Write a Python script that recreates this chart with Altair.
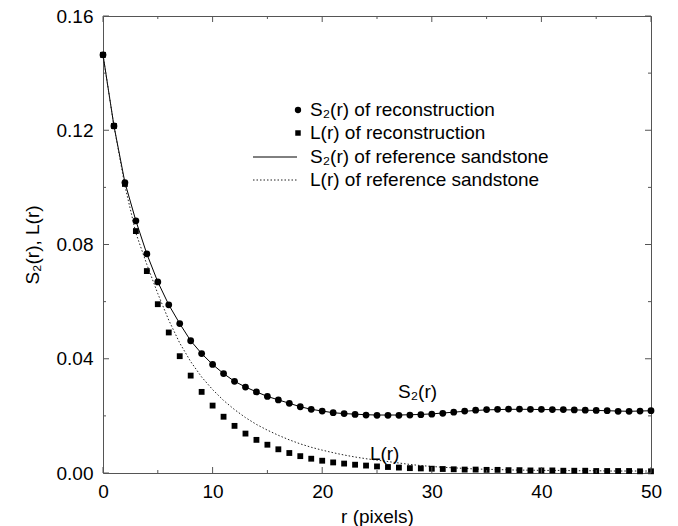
import altair as alt
import pandas as pd

# ---------------- data ----------------
r_vals = list(range(51))

s2_recon = [0.1464, 0.1215, 0.1017, 0.0883, 0.0767, 0.0669, 0.0589, 0.0523, 0.0463, 0.0418,
            0.0380, 0.0348, 0.0321, 0.0301, 0.0284, 0.0268, 0.0256, 0.0244, 0.0232, 0.0223,
            0.0217, 0.0211, 0.0208, 0.0205, 0.0203, 0.0202, 0.0202, 0.0202, 0.0203, 0.0204,
            0.0206, 0.0209, 0.0213, 0.0217, 0.0220, 0.0222, 0.0223, 0.0224, 0.0224, 0.0223,
            0.0223, 0.0222, 0.0222, 0.0221, 0.0220, 0.0219, 0.0218, 0.0216, 0.0216, 0.0217,
            0.0218]

l_recon = [0.1464, 0.1215, 0.1012, 0.0847, 0.0707, 0.0591, 0.0492, 0.0409, 0.0341, 0.0284,
           0.0236, 0.0197, 0.0165, 0.0138, 0.0116, 0.0099, 0.0083, 0.0070, 0.0059, 0.0050,
           0.0043, 0.0037, 0.0033, 0.0029, 0.0026, 0.0023, 0.0021, 0.0019, 0.0017, 0.0016,
           0.0015, 0.0014, 0.0013, 0.0012, 0.0012, 0.0011, 0.0011, 0.0010, 0.0010, 0.0009,
           0.0009, 0.0009, 0.0008, 0.0008, 0.0008, 0.0007, 0.0007, 0.0007, 0.0007, 0.0006,
           0.0006]

s2_ref = [0.1464, 0.1215, 0.1017, 0.0883, 0.0767, 0.0669, 0.0589, 0.0523, 0.0463, 0.0418,
          0.0380, 0.0348, 0.0321, 0.0301, 0.0284, 0.0268, 0.0256, 0.0244, 0.0232, 0.0223,
          0.0217, 0.0211, 0.0208, 0.0206, 0.0204, 0.0203, 0.0203, 0.0203, 0.0204, 0.0205,
          0.0207, 0.0210, 0.0213, 0.0216, 0.0219, 0.0221, 0.0222, 0.0223, 0.0223, 0.0223,
          0.0222, 0.0222, 0.0221, 0.0221, 0.0220, 0.0219, 0.0218, 0.0217, 0.0216, 0.0217,
          0.0218]

l_ref = [0.1464, 0.1215, 0.1005, 0.0840, 0.0730, 0.0628, 0.0535, 0.0455, 0.0390, 0.0336,
         0.0292, 0.0254, 0.0222, 0.0194, 0.0170, 0.0150, 0.0132, 0.0116, 0.0102, 0.0090,
         0.0080, 0.0071, 0.0063, 0.0056, 0.0050, 0.0045, 0.0040, 0.0035, 0.0030, 0.0026,
         0.0023, 0.0020, 0.0018, 0.0016, 0.0014, 0.0013, 0.0012, 0.0011, 0.0010, 0.0010,
         0.0009, 0.0009, 0.0009, 0.0008, 0.0008, 0.0008, 0.0007, 0.0007, 0.0007, 0.0007,
         0.0007]

x_major = [0, 10, 20, 30, 40, 50]
x_minor = [5, 15, 25, 35, 45]
y_major = [0.00, 0.04, 0.08, 0.12, 0.16]
y_minor = [0.02, 0.06, 0.10, 0.14]

legend_labels = ["S\u2082(r) of reconstruction", "L(r) of reconstruction",
                 "S\u2082(r) of reference sandstone", "L(r) of reference sandstone"]

annot_text = ["S\u2082(r)", "L(r)"]
annot_r = [28.7, 25.7]
annot_v = [0.0284, 0.0065]

# ---------------- layout / style ----------------
W, H = 548, 457
FONT = "Liberation Sans"
FS = 19
AX = "#555555"

df = pd.DataFrame({"r": r_vals, "s2_recon": s2_recon, "l_recon": l_recon,
                   "s2_ref": s2_ref, "l_ref": l_ref})

xs = alt.Scale(domain=[0, 50], nice=False, zero=False)
ys = alt.Scale(domain=[0, 0.16], nice=False, zero=False)

x_axis = alt.Axis(values=x_major, title="r (pixels)", ticks=False, domain=False, grid=False,
                  labelFont=FONT, labelFontSize=FS, labelColor="black", labelPadding=9,
                  titleFont=FONT, titleFontSize=FS, titleFontWeight="normal", titleColor="black",
                  titlePadding=6, labelFlush=False)
y_axis = alt.Axis(values=y_major, title="S\u2082(r), L(r)", format=".2f", ticks=False, domain=False,
                  grid=False, labelFont=FONT, labelFontSize=FS, labelColor="black", labelPadding=10,
                  titleFont=FONT, titleFontSize=FS, titleFontWeight="normal", titleColor="black",
                  titlePadding=14, labelFlush=False)


def X(field):
    return alt.X(field, scale=xs, axis=x_axis, title="r (pixels)")


def Y(field):
    return alt.Y(field, scale=ys, axis=y_axis, title="S\u2082(r), L(r)")


base = alt.Chart(df)

ref_s2 = base.mark_line(color="black", strokeWidth=1).encode(x=X("r:Q"), y=Y("s2_ref:Q"))
ref_l = base.mark_line(color="#222222", strokeWidth=1, strokeDash=[1.5, 2]).encode(
    x=X("r:Q"), y=Y("l_ref:Q"))
circ = base.mark_circle(size=46, color="black", opacity=1).encode(x=X("r:Q"), y=Y("s2_recon:Q"))
sq = base.mark_square(size=34, color="black", opacity=1).encode(x=X("r:Q"), y=Y("l_recon:Q"))


def xticks(vals, length):
    d = alt.Chart(pd.DataFrame({"t": vals}))
    bot = d.mark_rule(color=AX, strokeWidth=1).encode(
        x=X("t:Q"), y=alt.value(H), y2=alt.value(H - length))
    top = d.mark_rule(color=AX, strokeWidth=1).encode(
        x=X("t:Q"), y=alt.value(0), y2=alt.value(length))
    return [bot, top]


def yticks(vals, length):
    d = alt.Chart(pd.DataFrame({"t": vals}))
    left = d.mark_rule(color=AX, strokeWidth=1).encode(
        y=Y("t:Q"), x=alt.value(0), x2=alt.value(length))
    right = d.mark_rule(color=AX, strokeWidth=1).encode(
        y=Y("t:Q"), x=alt.value(W), x2=alt.value(W - length))
    return [left, right]


tick_layers = xticks(x_major, 6) + xticks(x_minor, 3) + yticks(y_major, 6) + yticks(y_minor, 3)

annot = alt.Chart(pd.DataFrame({"r": annot_r, "v": annot_v, "t": annot_text})).mark_text(
    font=FONT, fontSize=FS, color="black", align="center", baseline="middle").encode(
    x=X("r:Q"), y=Y("v:Q"), text="t:N")

# legend (drawn by hand, positions in plot pixels)
LX_TEXT, LX_SYM, LX_L0, LX_L1 = 207, 195, 150, 194
LY = [94, 117, 141, 164]
leg_src = alt.Chart(pd.DataFrame({"k": [0]}))
leg = [
    leg_src.mark_circle(size=40, color="black", opacity=1).encode(x=alt.value(LX_SYM), y=alt.value(LY[0])),
    leg_src.mark_square(size=30, color="black", opacity=1).encode(x=alt.value(LX_SYM), y=alt.value(LY[1])),
    leg_src.mark_rule(color="black", strokeWidth=1).encode(
        x=alt.value(LX_L0), x2=alt.value(LX_L1), y=alt.value(LY[2])),
    leg_src.mark_rule(color="#222222", strokeWidth=1, strokeDash=[1.5, 2]).encode(
        x=alt.value(LX_L0), x2=alt.value(LX_L1), y=alt.value(LY[3])),
]
for i, lab in enumerate(legend_labels):
    leg.append(leg_src.mark_text(font=FONT, fontSize=FS, color="black", align="left",
                                 baseline="middle", text=lab).encode(
        x=alt.value(LX_TEXT), y=alt.value(LY[i])))

chart = alt.layer(ref_s2, ref_l, circ, sq, annot, *tick_layers, *leg).properties(
    width=W, height=H,
    autosize=alt.AutoSizeParams(type="none"),
    padding={"left": 103, "top": 16, "right": 27, "bottom": 53},
    background="white",
).configure_view(stroke=AX, strokeWidth=1)

chart.save("out.html", embed_options={"renderer": "svg", "actions": False})
